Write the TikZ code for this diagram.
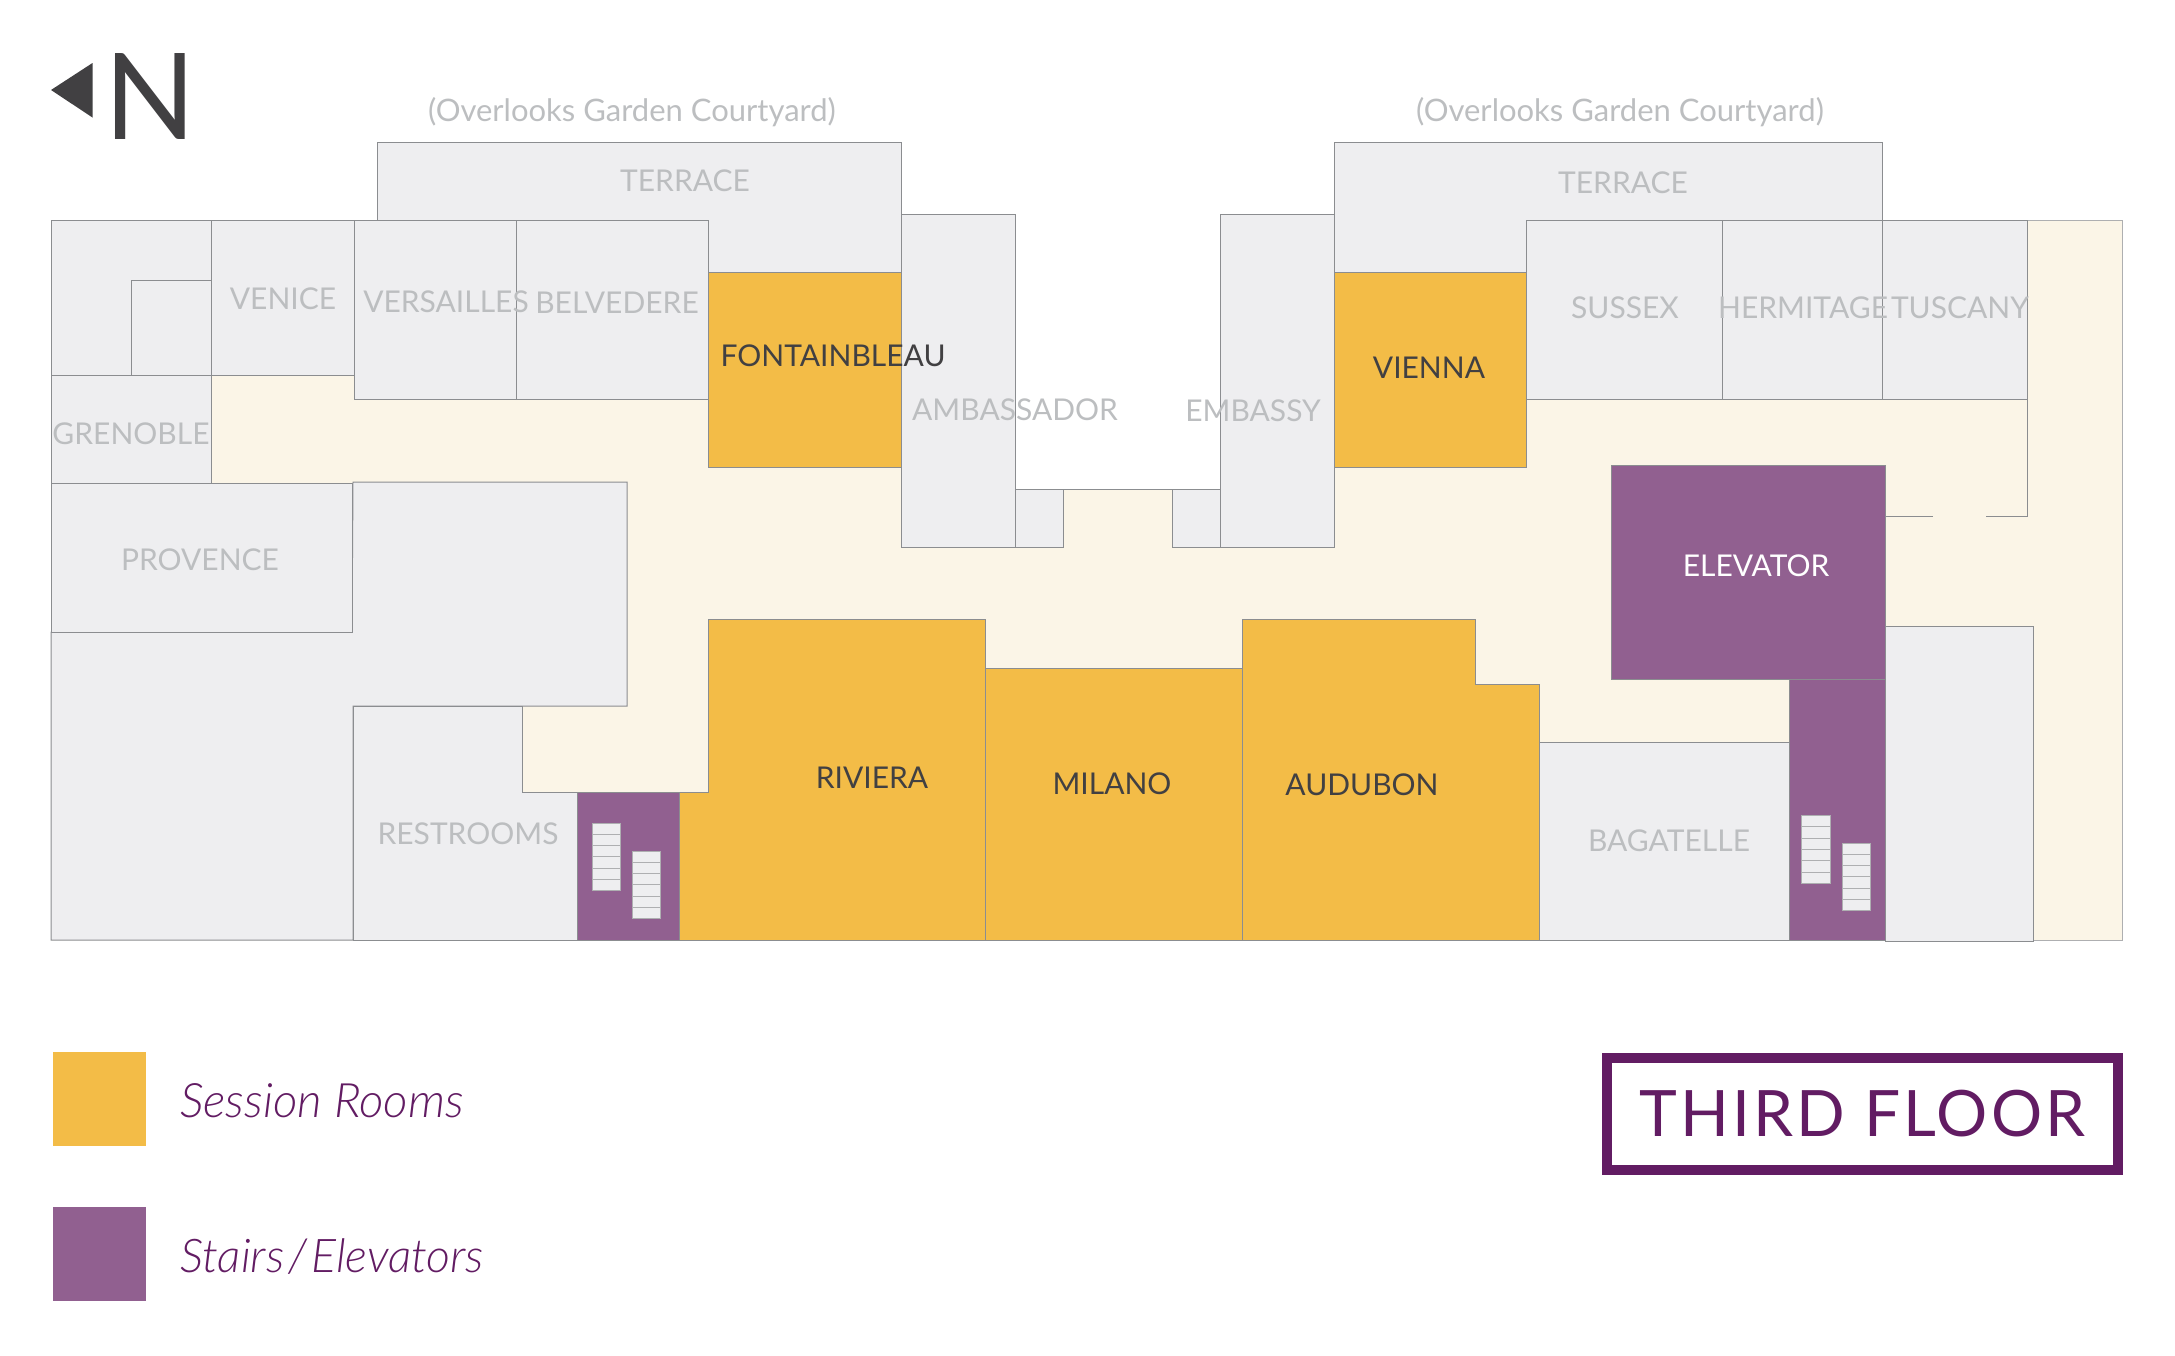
\documentclass[tikz,border=0pt]{standalone}
\usepackage{fontspec}
\setmainfont{Lato}
\newfontfamily\keyfont{Lato}[UprightFont=* Light,ItalicFont=* Light Italic]
\newfontfamily\floorfont{Lato}[LetterSpace=4.5]
\definecolor{roomgrey}{HTML}{EEEEF0}
\definecolor{wallgrey}{HTML}{8B8D90}
\definecolor{hallcream}{HTML}{FBF5E7}
\definecolor{sessionorange}{HTML}{F3BC47}
\definecolor{stairpurple}{HTML}{916090}
\definecolor{floorpurple}{HTML}{621C63}
\definecolor{greytext}{HTML}{BCBEC0}
\definecolor{darktext}{HTML}{414042}
\tikzset{
  wall/.style={draw=wallgrey,line width=1pt,line join=miter},
  room/.style={wall,fill=roomgrey},
  session/.style={wall,fill=sessionorange},
  lift/.style={wall,fill=stairpurple},
  tread/.style={draw=wallgrey!70,line width=1pt,fill=roomgrey},
  roomname/.style={inner sep=0pt,text=greytext,font=\fontsize{30}{34}\selectfont},
  sessionname/.style={roomname,text=darktext},
  courtname/.style={roomname,font=\fontsize{31}{34}\selectfont},
  legendname/.style={inner sep=0pt,anchor=base west,text=floorpurple,font=\fontsize{47.5}{54}\keyfont\itshape}
}
\newcommand{\stairflight}[2]{%
  \foreach \k in {0,...,5}
    \draw[tread] (#1,#2+\k*11.3) rectangle (#1+28.5,#2+\k*11.3+11.3);
}
\begin{document}
\begin{tikzpicture}[x=1pt,y=-1pt]
  \useasboundingbox (0,0) rectangle (2175,1355);

  \fill[hallcream] (211,375) -- (1015,375) -- (1015,489) -- (1220,489) -- (1220,375) -- (2027,375)
    -- (2027,220) -- (2122.5,220) -- (2122.5,940) -- (522,940) -- (522,483) -- (211,483) -- cycle;
  \draw[wall,draw=wallgrey!70] (2027,220) -- (2122.5,220) -- (2122.5,940) -- (2033,940);
  \draw[wall] (1064,489) -- (1173,489);

  \draw[room] (51,220) rectangle (211,375);
  \draw[wall] (131,375) -- (131,280) -- (211,280);
  \draw[room] (211,220) rectangle (354,375);
  \draw[room] (377,142) -- (901.5,142) -- (901.5,272) -- (708,272) -- (708,220) -- (377,220) -- cycle;
  \draw[room] (354,220) rectangle (516,399);
  \draw[room] (516,220) rectangle (708,399);
  \draw[session] (708,272) rectangle (901.5,467);
  \draw[room] (901.5,214) rectangle (1015,547);
  \draw[room] (1015,489) rectangle (1063.5,547);
  \draw[room] (1172.5,489) rectangle (1220.5,547);
  \draw[room] (1220.5,214) rectangle (1334.5,547);
  \draw[room] (1334.5,142) -- (1882,142) -- (1882,220) -- (1526,220) -- (1526,272) -- (1334.5,272) -- cycle;
  \draw[session] (1334.5,272) rectangle (1526,467);
  \draw[room] (1526,220) rectangle (1722,399);
  \draw[room] (1722,220) rectangle (1882,399);
  \draw[room] (1882,220) rectangle (2027,399);
  \draw[wall] (2027,399) -- (2027,516) -- (1986,516);
  \draw[wall] (1933,516) -- (1885.5,516);

  \draw[room] (51,375) rectangle (211,483);
  \draw[room] (51,632) -- (352,632) -- (353,482) -- (627,482) -- (627,706) -- (353,706) -- (353,940) -- (51,940) -- cycle;
  \draw[room] (51,483) rectangle (352,632);
  \draw[room] (353,706) -- (522,706) -- (522,792) -- (577.5,792) -- (577.5,940) -- (353,940) -- cycle;
  \draw[lift] (577.5,792) rectangle (679.5,940);
  \draw[session] (708,619) -- (985.5,619) -- (985.5,940) -- (679.5,940) -- (679.5,792) -- (708,792) -- cycle;
  \draw[wall] (522,792) -- (708,792);
  \draw[session] (985.5,668) rectangle (1242.5,940);
  \draw[session] (1242.5,619) -- (1475.5,619) -- (1475.5,684) -- (1539.5,684) -- (1539.5,940) -- (1242.5,940) -- cycle;
  \draw[room] (1539.5,742) rectangle (1789.5,940);
  \draw[lift] (1789.5,679) rectangle (1885.5,940);
  \draw[lift] (1611,465) rectangle (1885.5,679);
  \draw[room] (1885.5,626) rectangle (2033,941);

  \stairflight{592}{823}
  \stairflight{632}{851}
  \stairflight{1801.5}{815.5}
  \stairflight{1842}{843}

  \node[courtname] (courtleft) at (632,112) {(Overlooks Garden Courtyard)};
  \node[courtname] (courtright) at (1620,112) {(Overlooks Garden Courtyard)};
  \node[roomname] (terraceleft) at (685,181) {TERRACE};
  \node[roomname] (terraceright) at (1623,183) {TERRACE};
  \node[roomname] (venice) at (283,298.5) {VENICE};
  \node[roomname] (versailles) at (446,301.5) {VERSAILLES};
  \node[roomname] (belvedere) at (617,302.5) {BELVEDERE};
  \node[sessionname] (fontainbleau) at (833,356) {FONTAINBLEAU};
  \node[roomname] (ambassador) at (1015,410) {AMBASSADOR};
  \node[roomname] (embassy) at (1253,411) {EMBASSY};
  \node[sessionname] (vienna) at (1429,368) {VIENNA};
  \node[roomname] (sussex) at (1625,308) {SUSSEX};
  \node[roomname] (hermitage) at (1803,308) {HERMITAGE};
  \node[roomname] (tuscany) at (1960,308) {TUSCANY};
  \node[roomname] (grenoble) at (131,434) {GRENOBLE};
  \node[roomname] (provence) at (200,560) {PROVENCE};
  \node[roomname,text=white] (elevator) at (1756,565.5) {ELEVATOR};
  \node[roomname] (restrooms) at (468,833.5) {RESTROOMS};
  \node[sessionname] (riviera) at (872,778) {RIVIERA};
  \node[sessionname] (milano) at (1112,783.5) {MILANO};
  \node[sessionname] (audubon) at (1362,784.5) {AUDUBON};
  \node[roomname] (bagatelle) at (1669,840.5) {BAGATELLE};

  \fill[darktext] (51,90) -- (92.5,63) -- (92.5,117.5) -- cycle;
  \node[inner sep=0pt,text=darktext,font=\fontsize{120}{124}\selectfont] (north) at (150.5,97) {N};

  \fill[sessionorange] (52.5,1052) rectangle (146,1146);
  \node[legendname] (sessionkey) at (180,1117) {Session Rooms};
  \fill[stairpurple] (52.5,1207) rectangle (146,1301);
  \node[legendname,font=\fontsize{46.5}{54}\keyfont\itshape] (stairkey) at (180,1272) {\spaceskip=0.09em Stairs / Elevators};

  \draw[draw=floorpurple,line width=10pt] (1606.5,1057.5) rectangle (2118,1170);
  \node[inner sep=0pt,text=floorpurple,font=\fontsize{64}{70}\floorfont] (floorname) at (1862.5,1113.5) {THIRD FLOOR};
\end{tikzpicture}
\end{document}
